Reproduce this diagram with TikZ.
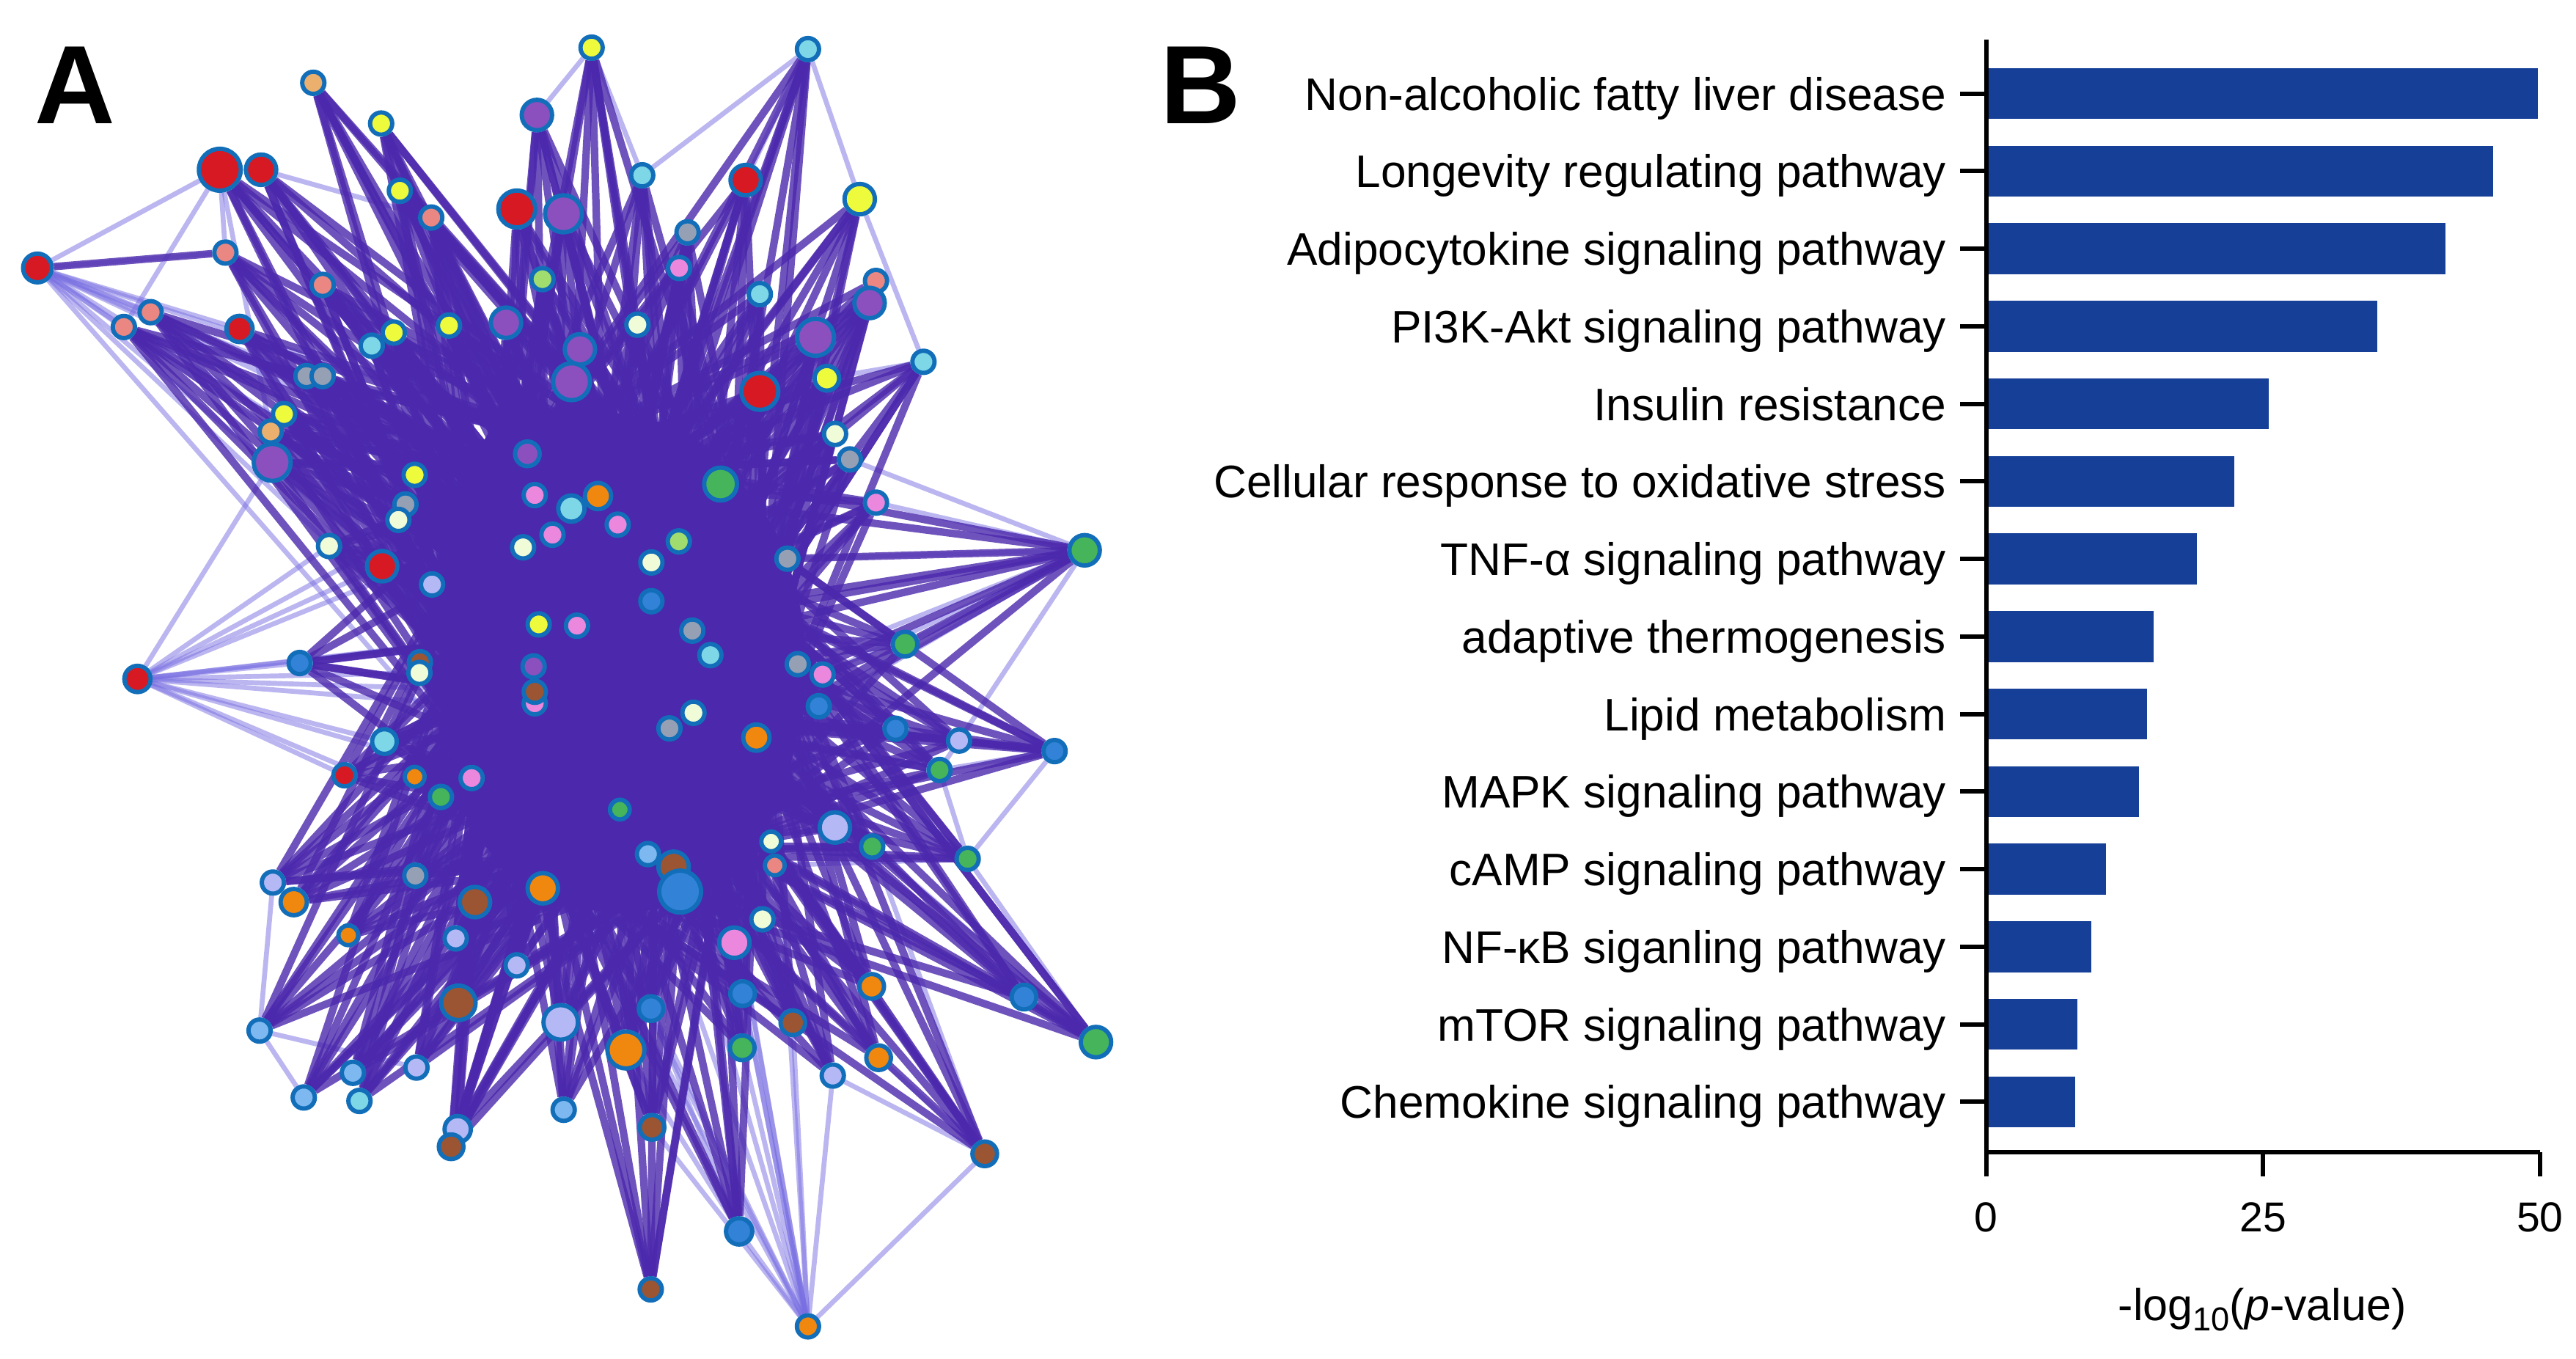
\documentclass[tikz,border=0pt]{standalone}
\usepackage{fontspec}
\setmainfont{Liberation Sans}
\usetikzlibrary{positioning}

\definecolor{linkc}{RGB}{75,40,172}
\definecolor{faintc}{RGB}{120,110,225}
\definecolor{rim}{RGB}{18,110,185}
\definecolor{barc}{RGB}{22,64,152}
\definecolor{cred}{RGB}{215,25,35}
\definecolor{cyel}{RGB}{238,250,60}
\definecolor{csky}{RGB}{125,215,230}
\definecolor{clsky}{RGB}{125,185,240}
\definecolor{csal}{RGB}{235,135,130}
\definecolor{cpea}{RGB}{235,175,110}
\definecolor{cpur}{RGB}{140,80,190}
\definecolor{cgry}{RGB}{150,160,180}
\definecolor{cpnk}{RGB}{235,135,220}
\definecolor{clgr}{RGB}{160,220,110}
\definecolor{cgrn}{RGB}{70,180,90}
\definecolor{ccrm}{RGB}{240,252,215}
\definecolor{cblu}{RGB}{50,130,215}
\definecolor{corg}{RGB}{240,135,15}
\definecolor{cbrn}{RGB}{155,85,50}
\definecolor{clav}{RGB}{180,185,245}

\pgfdeclarelayer{bg}
\pgfsetlayers{bg,main}

\tikzset{
  nd/.style={circle, draw=rim, line width=1.5pt, inner sep=0pt},
  link/.style={draw=linkc, line width=2.6pt, opacity=.8},
  faint/.style={draw=faintc, line width=1.7pt, opacity=.5},
  ax/.style={line width=1.5pt},
  lbl/.style={font=\fontsize{15.8}{18}\selectfont, anchor=base east, inner sep=0pt},
  ticklbl/.style={font=\fontsize{14.5}{17}\selectfont, inner sep=0pt},
  panel/.style={font=\bfseries\fontsize{38.6}{40}\selectfont, anchor=base west, inner sep=0pt}
}

\begin{document}
\begin{tikzpicture}[x=0.02cm, y=-0.02cm]
\useasboundingbox (0,0) rectangle (1568,827);

% A: network
\coordinate (hA) at (310,290);
\coordinate (hB) at (400,285);
\coordinate (hC) at (465,370);
\coordinate (hD) at (295,420);
\coordinate (hE) at (420,440);
\coordinate (hF) at (335,520);
\coordinate (hG) at (440,515);
\coordinate (hH) at (370,380);
\foreach \x/\y/\c/\d [count=\i] in {
  190.7/50.4/cpea/.27, 232/75.2/cyel/.27, 360.1/29/cyel/.27, 326.8/70/cpur/.37,
  133.8/103.3/cred/.51, 158.9/103.3/cred/.37, 243.4/116.1/cyel/.27, 262.5/132.4/csal/.27,
  314.6/127.2/cred/.45, 343/130.1/cpur/.45, 390.9/106.7/csky/.27, 418.5/141.4/cgry/.27,
  413.4/163.1/cpnk/.27, 330.2/169.9/clgr/.27, 137.2/153.7/csal/.27, 196.4/173.4/csal/.27,
  91.7/190/csal/.27, 75.4/199/csal/.27, 145.8/200.2/cred/.32, 239.7/202.4/cyel/.27,
  226.3/210.4/csky/.27, 273.3/198.1/cyel/.27, 308/196.4/cpur/.37, 388/197.6/ccrm/.27,
  353/212.6/cpur/.37, 347.9/232.3/cpur/.45, 186.5/228.9/cgry/.27, 196.4/228.9/cgry/.27,
  172.9/252/cyel/.27, 164.8/262.6/cpea/.27, 165.7/281.4/cpur/.45, 491.8/29.9/csky/.27,
  453.9/109.6/cred/.37, 523.3/121.2/cyel/.37, 462.5/179/csky/.27, 533.2/171/csal/.27,
  529.3/184.4/cpur/.37, 496.4/205.3/cpur/.45, 562.1/220.2/csky/.27, 503.3/230.2/cyel/.3,
  462.5/238.2/cred/.45, 508.3/264.1/ccrm/.27, 517.3/279.6/cgry/.27, 438.6/294.6/cgrn/.4,
  533.2/305.9/cpnk/.27, 252.4/289/cyel/.27, 246.8/307/cgry/.27, 242.5/316.4/ccrm/.27,
  200.3/332.3/ccrm/.27, 232.6/344.6/cred/.37, 263/355.7/clav/.27, 321/276.2/cpur/.3,
  325.5/301.3/cpnk/.27, 347.8/309.5/csky/.32, 364/301.9/corg/.32, 376/319.3/cpnk/.27,
  336.3/325.4/cpnk/.27, 318.4/333.1/ccrm/.27, 413.2/329.5/clgr/.27, 396.5/342.3/ccrm/.27,
  396.5/365.9/cblu/.27, 479.3/340/cgry/.27, 660.2/334.9/cgrn/.37, 182.4/403.5/cblu/.27,
  255.6/403/cbrn/.27, 255.3/409.5/ccrm/.27, 327.9/380/cyel/.27, 351.2/380.8/cpnk/.27,
  421.4/383.8/cgry/.27, 432.4/398.7/csky/.27, 485.6/404.2/cgry/.27, 500.7/410.5/cpnk/.27,
  550.9/392/cgrn/.3, 324.8/405.6/cpur/.27, 325.5/428/cpnk/.27, 325.5/421/cbrn/.27,
  422.1/433.8/ccrm/.27, 407.5/443.3/cgry/.27, 498.4/429.8/cblu/.27, 460.4/448.9/corg/.32,
  545.1/443.5/cblu/.27, 583.8/450.7/clav/.27, 641.9/457.1/cblu/.27, 571.9/468.6/cgrn/.27,
  234/451.3/csky/.3, 209.7/471.8/cred/.27, 252.4/472.7/corg/.24, 287.1/473.5/cpnk/.27,
  268.4/485/cgrn/.27, 377.3/492.7/cgrn/.24, 508.2/503.6/clav/.37, 530.9/515.2/cgrn/.27,
  589/522.7/cgrn/.27, 469.4/512.1/ccrm/.24, 471.6/526.7/csal/.24, 394.4/519.8/clsky/.27,
  410/527.5/cbrn/.37, 414/542.6/cblu/.51, 166.1/537.1/clav/.27, 178.8/549/corg/.32,
  252.8/532.9/cgry/.27, 289.1/549/cbrn/.37, 330.4/540.6/corg/.37, 212/569.2/corg/.24,
  277.4/571.1/clav/.27, 314.5/587.5/clav/.27, 464.1/559.5/ccrm/.27, 447/573.7/cpnk/.37,
  452/604.7/cblu/.3, 530.6/600.3/corg/.3, 623.3/606.8/cblu/.3, 667.1/634.2/cgrn/.37,
  279/610.3/cbrn/.42, 341.3/622.2/clav/.42, 396.3/613.8/cblu/.3, 381/639/corg/.45,
  451.8/637.7/cgrn/.3, 482.6/622.4/cbrn/.3, 534.8/643.7/corg/.3, 506.9/654.6/clav/.27,
  158/627.2/clsky/.27, 214.8/652.9/clsky/.27, 253.5/649.7/clav/.27, 184.9/667.9/clsky/.27,
  218.8/670/csky/.27, 343.1/675.4/clsky/.27, 278.6/687.2/clav/.32, 274.6/697.9/cbrn/.3,
  396.9/686.1/cbrn/.3, 599.4/702.2/cbrn/.3, 449.9/749.4/cblu/.32, 396.1/784.7/cbrn/.27,
  491.8/807.2/corg/.27, 22.8/163.1/cred/.35, 83.7/413.2/cred/.32}
  \node[nd, fill=\c, minimum size=\d cm] (n\i) at (\x,\y) {};

\begin{pgfonlayer}{bg}
% light mesh
\foreach \i in {133,134,135}
  \foreach \h in {hA,hB,hC,hD,hE,hF,hG,hH}
    \draw[faint] (n\i) -- (\h);
\foreach \a/\b in {134/5, 134/17, 134/15, 134/18, 134/19, 134/27, 135/49, 135/50,
  135/64, 135/66, 135/86, 135/85, 135/31, 63/45, 63/62, 63/73, 63/71, 63/72, 63/79,
  63/43, 63/84, 133/109, 133/117, 133/118, 133/129, 133/115, 133/131, 133/120,
  133/130, 131/115, 131/116, 130/119, 130/120, 130/110, 130/92, 112/111, 112/93,
  112/92, 83/82, 83/84, 83/93, 3/4, 3/11, 32/33, 32/34, 32/11, 5/15, 5/18, 5/30,
  6/8, 121/99, 121/124, 121/123, 34/39, 39/40, 93/95, 84/93}
  \draw[faint] (n\a) -- (n\b);
% dense core
\fill[linkc] plot[smooth cycle] coordinates {(300,260) (360,250) (420,265) (470,320)
  (490,390) (480,470) (450,530) (390,555) (330,545) (285,500) (270,430) (275,340)};
\foreach \i in {1,...,132}
  \foreach \h in {hA,hB,hC,hD,hE,hF,hG,hH}
    \draw[link] (n\i) -- (\h);
\foreach \a/\b in {63/62, 63/73, 83/81, 83/82, 112/111, 93/91, 134/15}
  \draw[link] (n\a) -- (n\b);
\end{pgfonlayer}
\node[panel] (labA) at (21,75) {A};

% B: bar chart
\node[panel] (labB) at (706,75) {B};
\foreach \v/\t [count=\i] in {49.8/Non-alcoholic fatty liver disease,
  45.8/Longevity regulating pathway, 41.5/Adipocytokine signaling pathway,
  35.3/PI3K-Akt signaling pathway, 25.5/Insulin resistance,
  22.4/Cellular response to oxidative stress, 19.0/TNF-α signaling pathway,
  15.1/adaptive thermogenesis, 14.5/Lipid metabolism, 13.8/MAPK signaling pathway,
  10.8/cAMP signaling pathway, 9.5/NF-κB siganling pathway,
  8.2/mTOR signaling pathway, 8.0/Chemokine signaling pathway} {
  \pgfmathsetmacro\yy{57+47.2*(\i-1)}
  \fill[barc] (1209,\yy-15.5) rectangle (1209+6.74*\v,\yy+15.5);
  \draw[ax] (1193,\yy) -- (1209,\yy);
  \node[lbl] (t\i) at (1185,\yy+10) {\t};
}
\draw[ax] (1209,24) -- (1209,716);
\draw[ax] (1209,701) -- (1546,701);
\foreach \v in {0,25,50} {
  \draw[ax] (1209+6.74*\v,701) -- (1209+6.74*\v,716);
  \node[ticklbl] (x\v) at (1209+6.74*\v,741) {\v};
}
\node[ticklbl, font=\fontsize{15.5}{18}\selectfont] (xlab) at (1377,797)
  {-log\raisebox{-0.45ex}{\fontsize{11.5}{12}\selectfont 10}(\textit{p}-value)};
\end{tikzpicture}
\end{document}
